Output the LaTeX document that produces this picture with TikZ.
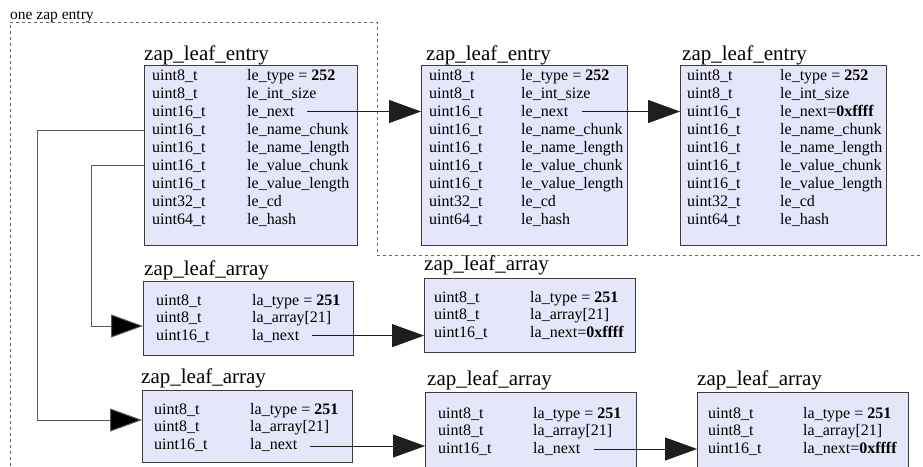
\documentclass[tikz,border=0pt]{standalone}
\usepackage{fontspec}
\setmainfont{Liberation Serif}
\usetikzlibrary{arrows.meta,calc}
\definecolor{lav}{RGB}{230,230,250}
\definecolor{bord}{RGB}{60,60,60}
\definecolor{edgec}{RGB}{30,30,30}
\tikzset{
  zbox/.style={draw=bord, line width=1.2pt, fill=lav, rectangle, anchor=north west, inner sep=0pt},
  ztitle/.style={anchor=base west, inner sep=0pt, font=\fontsize{21}{24}\selectfont},
  zrow/.style={anchor=base west, inner sep=0pt, font=\fontsize{16}{18}\selectfont},
  zlabel/.style={anchor=base west, inner sep=0pt, font=\fontsize{15.5}{17}\selectfont},
  zedge/.style={draw=edgec, line width=1pt, -{Triangle[length=32pt,width=23pt]}},
  zlink/.style={draw=black!65, line width=1pt, -{Triangle[length=32pt,width=23pt,fill=black]}},
  zcluster/.style={draw=black!60, line width=0.8pt, dash pattern=on 3pt off 3pt}
}
\begin{document}
\begin{tikzpicture}[x=1pt,y=-1pt]
\useasboundingbox[fill=white] (0,0) rectangle (923,466);

% cluster
\node[zlabel] (clab) at (10,19) {one zap entry};
\draw[zcluster] (10,466) -- (10,22) -- (clab.base east |- 0,22) -- (377,22) -- (377,255) -- (923,255);
\draw[zcluster] (clab.base west |- 0,22) -- (clab.base east |- 0,22);

% ---------- entry 1
\node[zbox, minimum width=213pt, minimum height=180pt] (e1) at (144,65) {};
\node[ztitle] (e1title) at (144,60) {zap\_leaf\_entry};
\foreach \a/\b [count=\i] in {uint8\_t/le\_type = \textbf{252}, uint8\_t/le\_int\_size, uint16\_t/le\_next, uint16\_t/le\_name\_chunk, uint16\_t/le\_name\_length, uint16\_t/le\_value\_chunk, uint16\_t/le\_value\_length, uint32\_t/le\_cd, uint64\_t/le\_hash}{
  \node[zrow] (e1t\i) at (152,{80+18*(\i-1)}) {\a};
  \node[zrow] (e1f\i) at (247,{80+18*(\i-1)}) {\b};
}
% ---------- entry 2
\node[zbox, minimum width=206pt, minimum height=180pt] (e2) at (421,65) {};
\node[ztitle] (e2title) at (426,60) {zap\_leaf\_entry};
\foreach \a/\b [count=\i] in {uint8\_t/le\_type = \textbf{252}, uint8\_t/le\_int\_size, uint16\_t/le\_next, uint16\_t/le\_name\_chunk, uint16\_t/le\_name\_length, uint16\_t/le\_value\_chunk, uint16\_t/le\_value\_length, uint32\_t/le\_cd, uint64\_t/le\_hash}{
  \node[zrow] (e2t\i) at (429,{80+18*(\i-1)}) {\a};
  \node[zrow] (e2f\i) at (521,{80+18*(\i-1)}) {\b};
}
% ---------- entry 3
\node[zbox, minimum width=206pt, minimum height=180pt] (e3) at (680,65) {};
\node[ztitle] (e3title) at (682,60) {zap\_leaf\_entry};
\foreach \a/\b [count=\i] in {uint8\_t/le\_type = \textbf{252}, uint8\_t/le\_int\_size, uint16\_t/le\_next=\textbf{0xffff}, uint16\_t/le\_name\_chunk, uint16\_t/le\_name\_length, uint16\_t/le\_value\_chunk, uint16\_t/le\_value\_length, uint32\_t/le\_cd, uint64\_t/le\_hash}{
  \node[zrow] (e3t\i) at (687,{80+18*(\i-1)}) {\a};
  \node[zrow] (e3f\i) at (780,{80+18*(\i-1)}) {\b};
}

% ---------- array 1
\node[zbox, minimum width=210pt, minimum height=74pt] (a1) at (143,281) {};
\node[ztitle] (a1title) at (144,275) {zap\_leaf\_array};
\foreach \a/\b [count=\i] in {uint8\_t/la\_type = \textbf{251}, uint8\_t/la\_array[21], uint16\_t/la\_next}{
  \node[zrow] (a1t\i) at (156,{305+17.8*(\i-1)}) {\a};
  \node[zrow] (a1f\i) at (252,{305+17.8*(\i-1)}) {\b};
}
% ---------- array 2
\node[zbox, minimum width=211pt, minimum height=74pt] (a2) at (424,278) {};
\node[ztitle] (a2title) at (424,270) {zap\_leaf\_array};
\foreach \a/\b [count=\i] in {uint8\_t/la\_type = \textbf{251}, uint8\_t/la\_array[21], uint16\_t/la\_next=\textbf{0xffff}}{
  \node[zrow] (a2t\i) at (434,{302+17.8*(\i-1)}) {\a};
  \node[zrow] (a2f\i) at (530,{302+17.8*(\i-1)}) {\b};
}
% ---------- array 3
\node[zbox, minimum width=210pt, minimum height=72pt] (a3) at (142,390) {};
\node[ztitle] (a3title) at (141,383) {zap\_leaf\_array};
\foreach \a/\b [count=\i] in {uint8\_t/la\_type = \textbf{251}, uint8\_t/la\_array[21], uint16\_t/la\_next}{
  \node[zrow] (a3t\i) at (154,{414+17.5*(\i-1)}) {\a};
  \node[zrow] (a3f\i) at (250,{414+17.5*(\i-1)}) {\b};
}
% ---------- array 4
\node[zbox, minimum width=211pt, minimum height=90pt] (a4) at (425,392) {};
\node[ztitle] (a4title) at (427,385) {zap\_leaf\_array};
\foreach \a/\b [count=\i] in {uint8\_t/la\_type = \textbf{251}, uint8\_t/la\_array[21], uint16\_t/la\_next}{
  \node[zrow] (a4t\i) at (438,{418+17.5*(\i-1)}) {\a};
  \node[zrow] (a4f\i) at (533,{418+17.5*(\i-1)}) {\b};
}
% ---------- array 5
\node[zbox, minimum width=211pt, minimum height=90pt] (a5) at (697,392) {};
\node[ztitle] (a5title) at (697,385) {zap\_leaf\_array};
\foreach \a/\b [count=\i] in {uint8\_t/la\_type = \textbf{251}, uint8\_t/la\_array[21], uint16\_t/la\_next=\textbf{0xffff}}{
  \node[zrow] (a5t\i) at (708,{418+17.5*(\i-1)}) {\a};
  \node[zrow] (a5f\i) at (803,{418+17.5*(\i-1)}) {\b};
}

% ---------- edges
\coordinate (s1) at ($(e1f3.base east)+(13,-4.5)$);
\draw[zedge] (s1) -- (s1 -| e2.west);
\coordinate (s2) at ($(e2f3.base east)+(13,-4.5)$);
\draw[zedge] (s2) -- (s2 -| e3.west);
\coordinate (s3) at ($(a1f3.base east)+(13,-5)$);
\draw[zedge] (s3) -- (s3 -| a2.west);
\coordinate (s4) at ($(a3f3.base east)+(13,-3)$);
\draw[zedge] (s4) -- (s4 -| a4.west);
\coordinate (s5) at ($(a4f3.base east)+(13,-4)$);
\draw[zedge] (s5) -- (s5 -| a5.west);

% links from entry 1 to chunk arrays
\coordinate (k1) at (37,420);
\coordinate (k2) at (91,326);
\draw[zlink] (e1.west |- 0,130) -| (k1) -- (k1 -| a3.west);
\draw[zlink] (e1.west |- 0,165) -| (k2) -- (k2 -| a1.west);
\end{tikzpicture}
\end{document}
